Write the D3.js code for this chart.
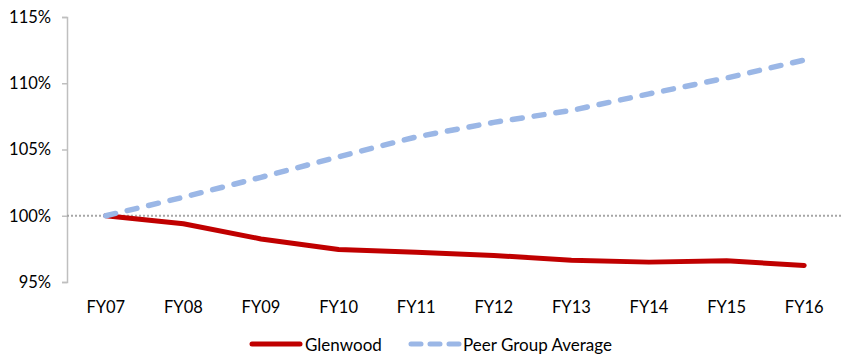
<!DOCTYPE html>
<html>
<head>
<meta charset="utf-8">
<script src="https://cdn.jsdelivr.net/npm/d3@7"></script>
<style>
  body { margin: 0; background: #fff; }
  svg { display: block; font-family: Lato, "Open Sans", sans-serif; }
</style>
</head>
<body>
<svg id="chart" width="845" height="355"></svg>
<script>
const categories = ["FY07","FY08","FY09","FY10","FY11","FY12","FY13","FY14","FY15","FY16"];
const glenwood = [100.0, 99.4, 98.25, 97.45, 97.25, 97.0, 96.65, 96.5, 96.6, 96.25];
const peerAvg  = [100.0, 101.4, 102.9, 104.45, 105.95, 107.05, 107.95, 109.2, 110.4, 111.75];
const yTicks = [95, 100, 105, 110, 115];
const seriesNames = ["Glenwood", "Peer Group Average"];

(function () {
const svg = d3.select("#chart");
const mLeft = 67, mRight = 843, mTop = 17, mBottom = 282;

const x = d3.scaleBand().domain(categories).range([mLeft, mRight]);
const y = d3.scaleLinear().domain([95, 115]).range([mBottom, mTop]);
const cx = c => x(c) + x.bandwidth() / 2;

// y axis
const yAxis = d3.axisLeft(y).tickValues(yTicks).tickSize(5).tickPadding(11)
  .tickFormat(d => d + "%");
const gy = svg.append("g").attr("transform", `translate(${mLeft},0)`).call(yAxis);
gy.select(".domain").attr("stroke", "#bfbfbf").attr("stroke-width", 1.5);
gy.selectAll(".tick line").attr("stroke", "#bfbfbf").attr("stroke-width", 1.5);
gy.selectAll(".tick text").attr("font-size", 16.5).attr("fill", "#000").attr("font-family", "Lato, sans-serif");

// x axis labels (no axis line)
const xAxis = d3.axisBottom(x).tickSize(0).tickPadding(0);
const gx = svg.append("g").attr("transform", `translate(0,${mBottom + 19})`).call(xAxis);
gx.select(".domain").remove();
gx.selectAll(".tick text").attr("font-size", 16.5).attr("fill", "#000").attr("font-family", "Lato, sans-serif");

// 100% reference line
svg.append("line")
  .attr("x1", mLeft).attr("x2", mRight)
  .attr("y1", y(100)).attr("y2", y(100))
  .attr("stroke", "#a6a6a6").attr("stroke-width", 2)
  .attr("stroke-dasharray", "2,2");

const line = d3.line().x((d, i) => cx(categories[i])).y(d => y(d));

svg.append("path").datum(glenwood)
  .attr("d", line).attr("fill", "none")
  .attr("stroke", "#c00000").attr("stroke-width", 5)
  .attr("stroke-linejoin", "round").attr("stroke-linecap", "round");

svg.append("path").datum(peerAvg)
  .attr("d", line).attr("fill", "none")
  .attr("stroke", "#9bb7e6").attr("stroke-width", 5.5)
  .attr("stroke-linecap", "round")
  .attr("stroke-dasharray", "10,12");

// legend
const lg = svg.append("g").attr("font-size", 17);
lg.append("line").attr("x1", 252).attr("x2", 300).attr("y1", 344).attr("y2", 344)
  .attr("stroke", "#c00000").attr("stroke-width", 5).attr("stroke-linecap", "round");
lg.append("text").attr("x", 305).attr("y", 350.5).text(seriesNames[0]);
lg.append("line").attr("x1", 411).attr("x2", 459).attr("y1", 344).attr("y2", 344)
  .attr("stroke", "#9bb7e6").attr("stroke-width", 5).attr("stroke-linecap", "round")
  .attr("stroke-dasharray", "10,9");
lg.append("text").attr("x", 463).attr("y", 350.5).text(seriesNames[1]);
})();
</script>
</body>
</html>
